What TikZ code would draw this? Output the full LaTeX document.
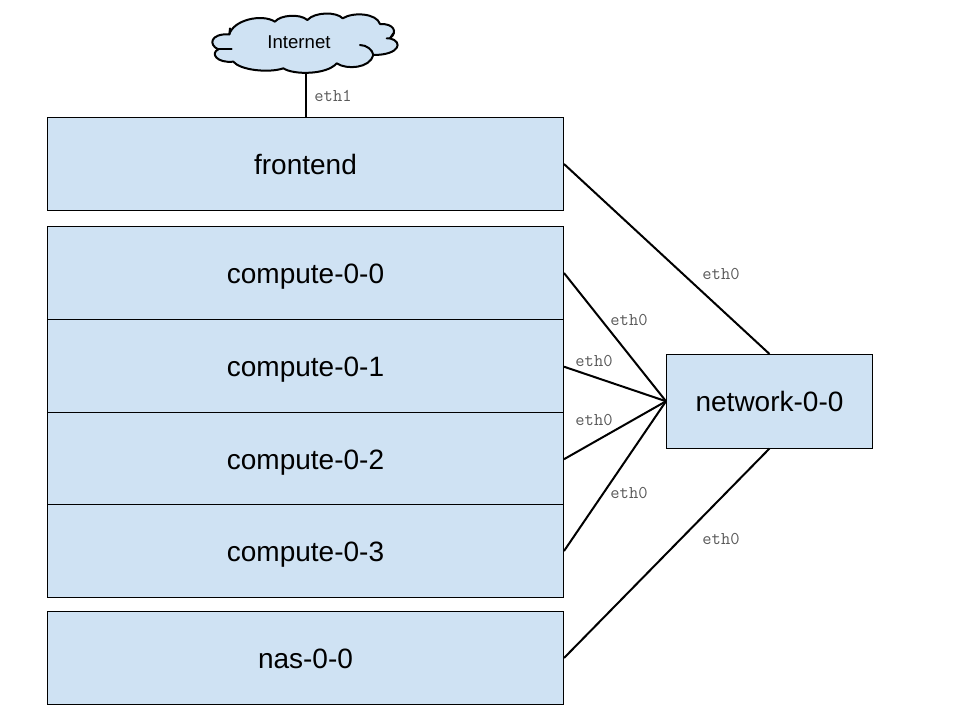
\documentclass[tikz,border=0pt]{standalone}
\usepackage{fontspec}
\setmainfont{Liberation Sans}
\setmonofont{Latin Modern Mono}
\definecolor{boxblue}{HTML}{CFE2F3}
\definecolor{lab}{HTML}{595959}
\tikzset{
  hostbox/.style={draw=black,fill=boxblue,line width=1pt,inner sep=0pt,minimum width=516pt,text height=21pt,text depth=0pt,font=\fontsize{28}{32}\selectfont},
  netbox/.style={draw=black,fill=boxblue,line width=1pt,inner sep=0pt,minimum width=206pt,minimum height=93.5pt,text height=21pt,text depth=0pt,font=\fontsize{28}{32}\selectfont},
  wire/.style={draw=black,line width=2pt},
  ethlab/.style={text=lab,inner sep=0pt,font=\ttfamily\fontsize{18}{20}\selectfont},
  cloudline/.style={draw=black,line width=2pt,line join=round,line cap=round}
}
\begin{document}
\begin{tikzpicture}[x=1pt,y=-1pt]
\useasboundingbox (0,0) rectangle (960,720);
\node[hostbox,minimum height=93pt] (frontend) at (305.5,164) {frontend};
\node[hostbox,minimum height=93pt] (c0) at (305.5,273) {compute-0-0};
\node[hostbox,minimum height=93pt] (c1) at (305.5,366) {compute-0-1};
\node[hostbox,minimum height=92pt] (c2) at (305.5,458.5) {compute-0-2};
\node[hostbox,minimum height=93pt] (c3) at (305.5,551) {compute-0-3};
\node[hostbox,minimum height=93pt] (nas) at (305.5,658) {nas-0-0};
\node[netbox] (net) at (769.5,401.25) {network-0-0};
\begin{scope}[shift={(190,0)},x=0.33333pt,y=-0.33333pt]
\path[cloudline,fill=boxblue]
  (118,103) .. controls (130,60) and (215,40) .. (255,65)
  .. controls (270,45) and (330,40) .. (352,60)
  .. controls (375,35) and (440,35) .. (458,55)
  .. controls (490,35) and (560,40) .. (570,72)
  .. controls (610,70) and (625,95) .. (600,115)
  .. controls (640,125) and (630,165) .. (550,165)
  .. controls (540,205) and (470,210) .. (440,190)
  .. controls (410,225) and (310,225) .. (280,205)
  .. controls (235,220) and (150,210) .. (130,185)
  .. controls (80,190) and (60,160) .. (85,148)
  .. controls (55,135) and (60,100) .. (118,103) -- cycle;
\draw[cloudline] (118,103) -- (120,85);
\draw[cloudline] (85,148) -- (125,148);
\draw[cloudline] (510,135) .. controls (530,135) and (548,150) .. (550,165);
\draw[cloudline] (590,115) -- (600,115) -- (610,100);
\end{scope}
\node[inner sep=0pt,font=\fontsize{18.6}{22}\selectfont] (inet) at (299,42) {Internet};
\coordinate (cloudbottom) at (305.5,73);
\draw[wire] (cloudbottom) -- (frontend.north);
\draw[wire] (frontend.east) -- (net.north);
\draw[wire] (c0.east) -- (net.west);
\draw[wire] ([yshift=-0.7pt]c1.east) -- (net.west);
\draw[wire] ([yshift=-0.7pt]c2.east) -- (net.west);
\draw[wire] (c3.east) -- (net.west);
\draw[wire] (nas.east) -- (net.south);
\node[ethlab] (l1) at (333,96) {eth1};
\node[ethlab] (l2) at (721,274) {eth0};
\node[ethlab] (l3) at (629,320) {eth0};
\node[ethlab] (l4) at (594,361) {eth0};
\node[ethlab] (l5) at (594,420) {eth0};
\node[ethlab] (l6) at (629,493) {eth0};
\node[ethlab] (l7) at (721,539) {eth0};
\end{tikzpicture}
\end{document}
